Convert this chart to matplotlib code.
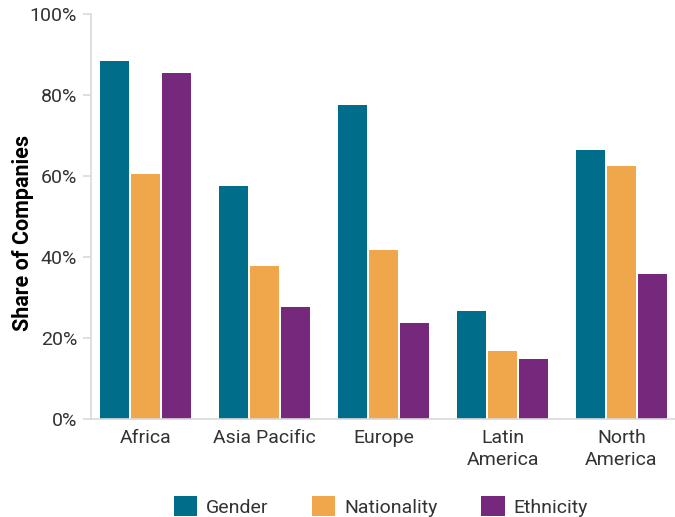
import matplotlib
matplotlib.use("Agg")
import matplotlib.pyplot as plt
from matplotlib.patches import Patch
from matplotlib.ticker import PercentFormatter
import numpy as np

regions = ["Africa", "Asia Pacific", "Europe", "Latin\nAmerica", "North\nAmerica"]
series_names = ["Gender", "Nationality", "Ethnicity"]
gender = [88.3, 57.5, 77.5, 26.7, 66.4]
nationality = [60.6, 37.8, 41.7, 16.8, 62.5]
ethnicity = [85.4, 27.7, 23.7, 14.8, 35.8]
y_ticks = [0, 20, 40, 60, 80, 100]

colors = ["#006E8A", "#F0A64A", "#76297C"]
text_color = "#333333"
axis_color = "#D9D9D9"

plt.rcParams["font.family"] = ["Roboto", "DejaVu Sans"]

fig = plt.figure(figsize=(6.75, 5.17), dpi=100)
ax = fig.add_axes([0.1348, 0.189, 0.8652, 0.7845])

x = np.arange(len(regions))
width = 0.244
step = 0.262
for i, (vals, col) in enumerate(zip([gender, nationality, ethnicity], colors)):
    ax.bar(x + (i - 1) * step, vals, width=width, color=col, zorder=2)

ax.set_xlim(-0.46, 4.45)
ax.set_ylim(0, 100)
ax.set_yticks(y_ticks)
ax.yaxis.set_major_formatter(PercentFormatter(decimals=0))
ax.set_xticks(x)
ax.set_xticklabels(regions)

for side in ["top", "right"]:
    ax.spines[side].set_visible(False)
for side in ["left", "bottom"]:
    ax.spines[side].set_color(axis_color)
    ax.spines[side].set_linewidth(1.2)

fs = 14
ax.tick_params(axis="y", length=6, width=1.2, color=axis_color, labelsize=fs,
               labelcolor=text_color, pad=4)
ax.tick_params(axis="x", length=0, labelsize=fs, labelcolor=text_color, pad=7)
for lbl in ax.get_xticklabels():
    lbl.set_linespacing(1.25)

ax.set_ylabel("Share of Companies", fontsize=15.5, fontweight="bold", color="black")
ax.yaxis.set_label_coords(-0.098, 0.46)

handles = [Patch(facecolor=c, edgecolor="none", label=n) for c, n in zip(colors, series_names)]
fig.legend(handles=handles, loc="upper center", bbox_to_anchor=(0.564, 0.04),
           ncol=3, frameon=False, fontsize=fs, handlelength=1.2, handleheight=1.2,
           handletextpad=0.45, columnspacing=2.25, labelcolor=text_color,
           borderaxespad=0, borderpad=0)

fig.savefig("out.png", dpi=100)
